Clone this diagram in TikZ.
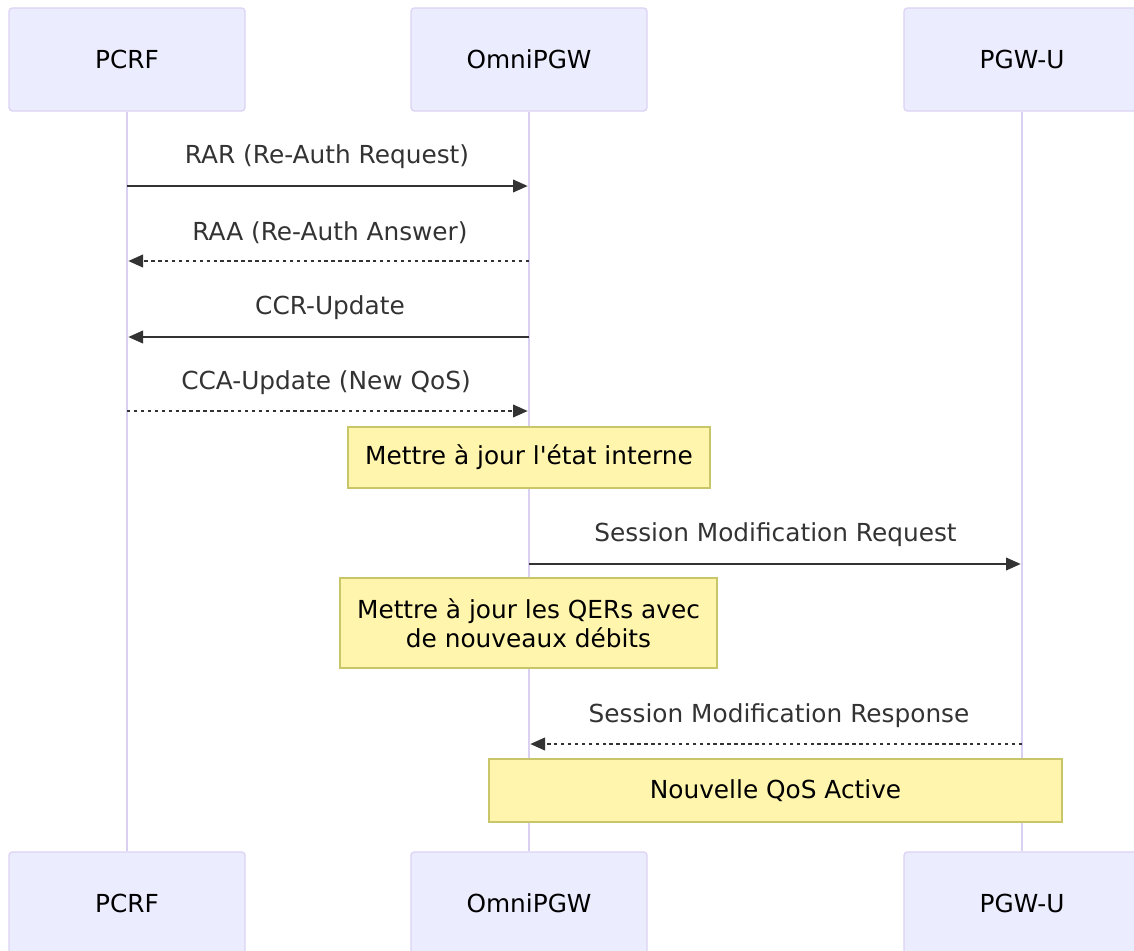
\documentclass[tikz,border=0pt]{standalone}
\usepackage{fontspec}
\setmainfont{DejaVu Sans}
\usetikzlibrary{arrows.meta}
\definecolor{actfill}{HTML}{ECECFF}
\definecolor{actline}{HTML}{DCD3F5}
\definecolor{lifeline}{HTML}{D9D0F3}
\definecolor{notefill}{HTML}{FFF5AD}
\definecolor{noteline}{HTML}{C9C66A}
\definecolor{txt}{HTML}{333333}
\tikzset{
  actor/.style={draw=actline, fill=actfill, line width=1pt, rounded corners=2.5pt,
    minimum width=177pt, minimum height=77.25pt, inner sep=0pt, text=black,
    font=\fontsize{18.6}{22}\selectfont},
  life/.style={draw=lifeline, line width=1.3pt},
  msg/.style={draw=txt, line width=1.3pt, -{Triangle[length=11pt,width=9.5pt]}, shorten >=1pt},
  reply/.style={msg, dash pattern=on 2.6pt off 2.6pt},
  lbl/.style={text=txt, font=\fontsize{18.6}{22}\selectfont, inner sep=0pt},
  note/.style={draw=noteline, fill=notefill, line width=0.9pt, inner sep=0pt,
    text=black, align=center, font=\fontsize{18.6}{21.5}\selectfont}
}
\begin{document}
\begin{tikzpicture}[x=0.75pt, y=-0.75pt]
\useasboundingbox (0,0) rectangle (1134,950);
% actors top
\node[actor] (pcrf) at (127,59.5) {PCRF};
\node[actor] (omni) at (529,59.5) {OmniPGW};
\node[actor] (pgwu) at (1022,59.5) {PGW-U};
% actors bottom
\node[actor] (pcrfb) at (127,903.5) {PCRF};
\node[actor] (omnib) at (529,903.5) {OmniPGW};
\node[actor] (pgwub) at (1022,903.5) {PGW-U};
% lifelines
\draw[life] (pcrf.south) -- (pcrfb.north);
\draw[life] (omni.south) -- (omnib.north);
\draw[life] (pgwu.south) -- (pgwub.north);
% messages
\node[lbl] (l1) at (327,157) {RAR (Re-Auth Request)};
\draw[msg] (pcrf |- 0,186) -- (omni |- 0,186);
\node[lbl] (l2) at (330,233) {RAA (Re-Auth Answer)};
\draw[reply] (omni |- 0,261) -- (pcrf |- 0,261);
\node[lbl] (l3) at (330,308) {CCR-Update};
\draw[msg] (omni |- 0,337) -- (pcrf |- 0,337);
\node[lbl] (l4) at (326,383) {CCA-Update (New QoS)};
\draw[reply] (pcrf |- 0,411) -- (omni |- 0,411);
\node[note, minimum width=271.5pt, minimum height=45.75pt] (n1) at (529,457.5) {Mettre à jour l\textquotesingle état interne};
\node[lbl] (l5) at (775.5,535) {Session Modification Request};
\draw[msg] (omni |- 0,564) -- (pgwu |- 0,564);
\node[note, minimum width=282.75pt, minimum height=67.5pt] (n2) at (528.5,623) {Mettre à jour les QERs avec\\de nouveaux débits};
\node[lbl] (l6) at (779,716) {Session Modification Response};
\draw[reply] (pgwu |- 0,744) -- (omni |- 0,744);
\node[note, minimum width=429.75pt, minimum height=47.25pt] (n3) at (775.5,790.5) {Nouvelle QoS Active};
\end{tikzpicture}
\end{document}
